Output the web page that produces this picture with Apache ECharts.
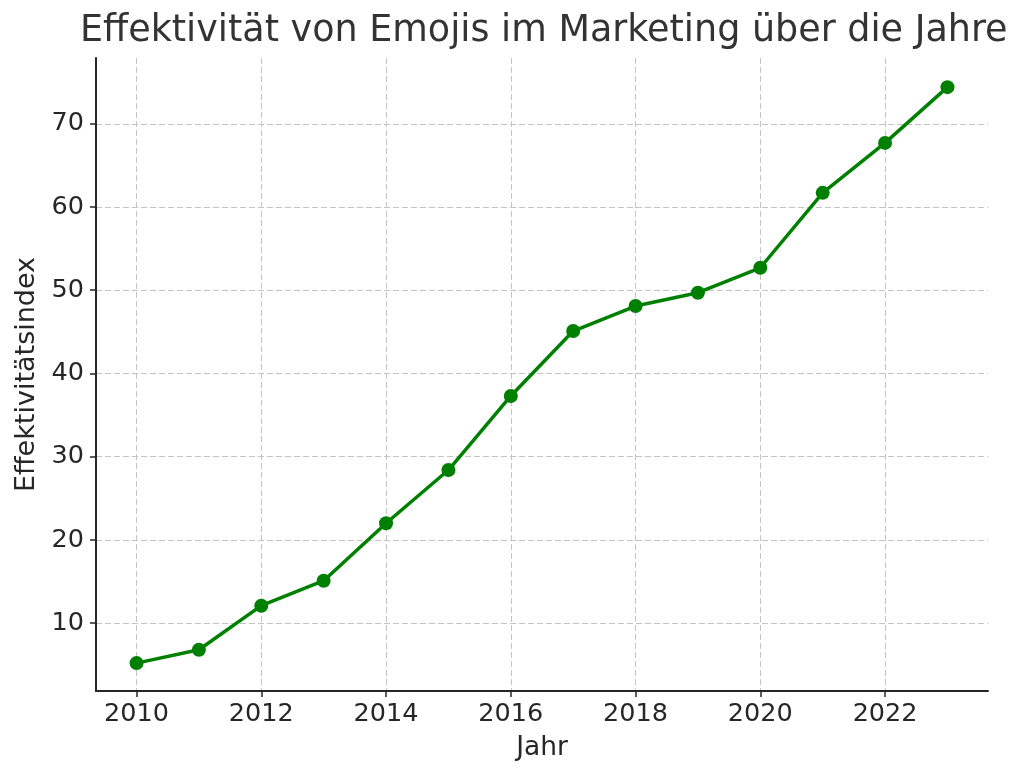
<!DOCTYPE html>
<html>
<head>
<meta charset="utf-8">
<script src="https://cdn.jsdelivr.net/npm/echarts@6/dist/echarts.min.js"></script>
<style>html,body{margin:0;padding:0;background:#fff}#c{width:1024px;height:780px}</style>
</head>
<body>
<div id="c"></div>
<script>
const years = [2010,2011,2012,2013,2014,2015,2016,2017,2018,2019,2020,2021,2022,2023];
const effectiveness = [5.2,6.8,12.1,15.1,22.0,28.4,37.3,45.1,48.1,49.7,52.7,61.7,67.7,74.4];
const xTicks = [2010,2012,2014,2016,2018,2020,2022];
const yTicks = [10,20,30,40,50,60,70];
const titleText = 'Effektivität von Emojis im Marketing über die Jahre';
const xLabel = 'Jahr';
const yLabel = 'Effektivitätsindex';

const font = 'DejaVu Sans';
const chart = echarts.init(document.getElementById('c'), null, {renderer: 'canvas'});
chart.setOption({
  animation: false,
  backgroundColor: '#ffffff',
  title: {
    text: titleText, left: 75, top: 8,
    textStyle: {fontFamily: font, fontSize: 36.5, fontWeight: 'normal', color: '#333333'}
  },
  grid: {left: 96, right: 36, top: 58, bottom: 89},
  xAxis: {
    type: 'value', min: 2009.35, max: 2023.65,
    name: xLabel, nameLocation: 'middle', nameGap: 44,
    nameTextStyle: {fontFamily: font, fontSize: 26.5, color: '#262626'},
    axisLine: {show: true, onZero: false, lineStyle: {color: '#262626', width: 2}},
    axisTick: {show: true, length: 6, lineStyle: {color: '#262626', width: 1.5}, customValues: xTicks},
    axisLabel: {fontFamily: font, fontSize: 25.5, color: '#262626', margin: 10, customValues: xTicks,
      formatter: v => String(v)},
    splitLine: {show: true, lineStyle: {color: '#c4c4c4', type: [6, 3], width: 1}}
  },
  yAxis: {
    type: 'value', min: 1.85, max: 77.9,
    name: yLabel, nameLocation: 'middle', nameGap: 54,
    nameTextStyle: {fontFamily: font, fontSize: 27, color: '#262626'},
    axisLine: {show: true, onZero: false, lineStyle: {color: '#262626', width: 2}},
    axisTick: {show: true, length: 6, lineStyle: {color: '#262626', width: 1.5}, customValues: yTicks},
    axisLabel: {fontFamily: font, fontSize: 25.5, color: '#262626', margin: 12, customValues: yTicks,
      formatter: v => String(v)},
    splitLine: {show: true, lineStyle: {color: '#c4c4c4', type: [6, 3], width: 1}}
  },
  series: [{
    type: 'line',
    data: years.map((y, i) => [y, effectiveness[i]]),
    symbol: 'circle', symbolSize: 14,
    lineStyle: {color: '#008000', width: 3.5},
    itemStyle: {color: '#008000'},
    z: 5
  }]
});
</script>
</body>
</html>
